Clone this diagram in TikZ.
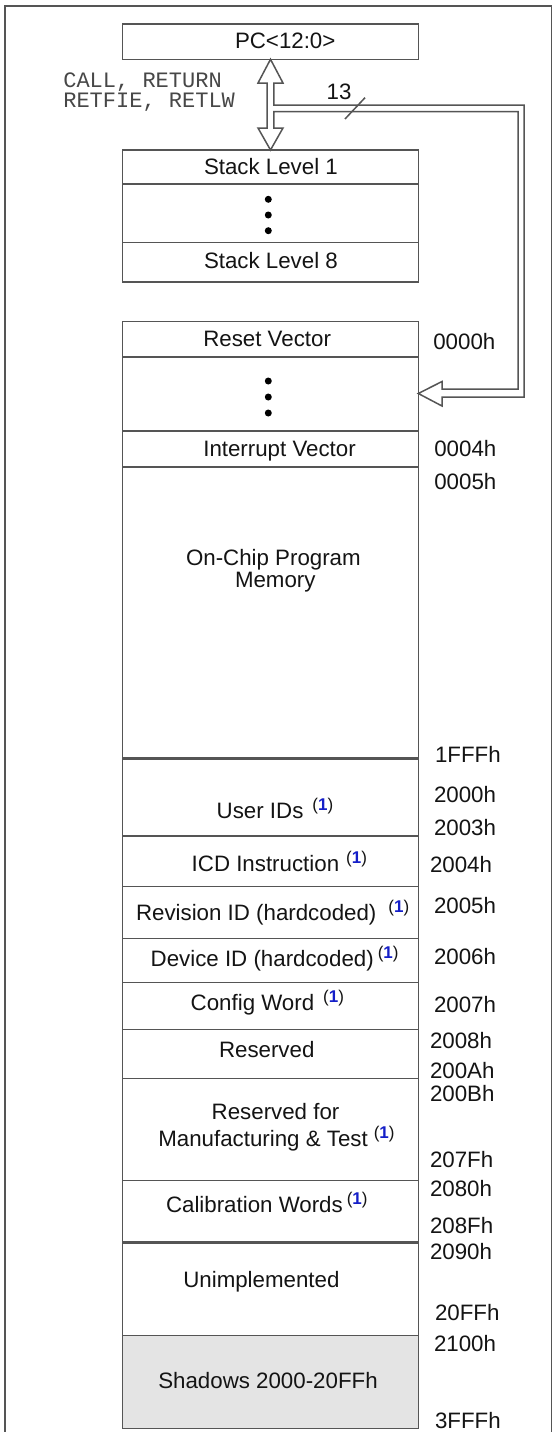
\documentclass[tikz,border=0pt]{standalone}
\usepackage{fontspec}
\setmainfont{Liberation Sans}
\newfontfamily\monofont{Liberation Mono}
\usetikzlibrary{calc}
\definecolor{linegray}{RGB}{85,85,85}
\definecolor{fnblue}{RGB}{20,30,200}
\definecolor{shadowfill}{RGB}{228,228,228}
\newcommand{\fnmark}{\raisebox{8pt}{\fontsize{17}{17}\selectfont(\textcolor{fnblue}{\bfseries 1})}}
\begin{document}
\begin{tikzpicture}[x=1pt,y=-1pt,
  cell/.style={draw=linegray, line width=1.5pt, fill=white, rectangle, inner sep=0pt, outer sep=0pt, minimum width=295.6pt, anchor=north west},
  lbl/.style={anchor=base west, inner sep=0pt, outer sep=0pt, font=\fontsize{22.3}{24}\selectfont, text=black!92},
  addr/.style={lbl},
  mono/.style={anchor=base west, inner sep=0pt, outer sep=0pt, font=\monofont\fontsize{22}{24}\selectfont, text=black!72},
  dotmark/.style={circle, fill=black, inner sep=0pt, minimum size=7pt},
  bus/.style={draw=linegray, line width=1.5pt, fill=white, line join=miter},
  thin/.style={draw=linegray, line width=1.5pt},
  thickline/.style={draw=linegray, line width=3pt}
]
\useasboundingbox (0,0) rectangle (554,1432);
\fill[white] (0,0) rectangle (554,1432);
% outer frame
\draw[thin] (5,1445) -- (5,6) -- (551.5,6) -- (551.5,1445);

% PC and stack
\node[cell, minimum height=35.3pt] (pc) at (122.7,24) {};
\node[cell, minimum height=34pt] (s1) at (122.7,150) {};
\node[cell, minimum height=58.3pt] (sdots) at (122.7,184) {};
\node[cell, minimum height=39.7pt] (s8) at (122.7,242.3) {};

% memory map
\node[cell, minimum height=35.3pt] (reset) at (122.7,321.7) {};
\node[cell, minimum height=74pt] (vdots) at (122.7,357) {};
\node[cell, minimum height=36pt] (intv) at (122.7,431) {};
\node[cell, minimum height=291.3pt] (onchip) at (122.7,467) {};
\node[cell, minimum height=77.7pt] (uid) at (122.7,758.3) {};
\node[cell, minimum height=50.7pt] (icd) at (122.7,836) {};
\node[cell, minimum height=51.6pt] (rev) at (122.7,886.7) {};
\node[cell, minimum height=44pt] (dev) at (122.7,938.3) {};
\node[cell, minimum height=47pt] (cfg) at (122.7,982.3) {};
\node[cell, minimum height=49pt] (rsv) at (122.7,1029.3) {};
\node[cell, minimum height=102.4pt] (mfg) at (122.7,1078.3) {};
\node[cell, minimum height=62pt] (cal) at (122.7,1180.7) {};
\node[cell, minimum height=93pt] (unimp) at (122.7,1242.7) {};
\node[cell, minimum height=92.6pt, fill=shadowfill] (shadow) at (122.7,1335.7) {};
\draw[thickline] (onchip.south west) -- (onchip.south east);
\draw[thickline] (cal.south west) -- (cal.south east);

% dots
\node[dotmark] (d1) at (268.3,199.3) {};
\node[dotmark] (d2) at (268.3,215) {};
\node[dotmark] (d3) at (268.3,230.7) {};
\node[dotmark] (d4) at (268.3,381) {};
\node[dotmark] (d5) at (268.3,397) {};
\node[dotmark] (d6) at (268.3,413) {};

% hollow bus arrows
\coordinate (tipA) at (270.5,59.3);
\coordinate (tipB) at (270.5,150);
\coordinate (tipC) at (vdots.east |- 0,393.5);
\path[bus] (tipA) -- (283,83) -- (273.8,83) -- (273.8,105) -- (524,105) -- (524,397)
  -- (442,397) -- (442,406) -- (tipC) -- (442,381.5) -- (442,389) -- (518,389)
  -- (518,111.7) -- (273.8,111.7) -- (273.8,128) -- (283,128) -- (tipB)
  -- (258,128) -- (267.2,128) -- (267.2,83) -- (258,83) -- cycle;
\coordinate (slashA) at (345,119);
\coordinate (slashB) at (365,97.7);
\draw[thin] (slashA) -- (slashB);
\node[lbl] (t13) at (326.7,99.3) {13};

% left labels
\node[mono] (tcall) at (63.3,87.5) {CALL, RETURN};
\node[mono] (tret) at (63.3,107) {RETFIE, RETLW};

% box labels
\node[lbl] (tpc) at (235,48) {PC<12:0>};
\node[lbl] (ts1) at (204,174.5) {Stack Level 1};
\node[lbl] (ts8) at (204,268) {Stack Level 8};
\node[lbl] (treset) at (203.3,346.5) {Reset Vector};
\node[lbl] (tint) at (203.3,456) {Interrupt Vector};
\node[lbl] (toc1) at (186,565.7) {On-Chip Program};
\node[lbl] (toc2) at (235,587.7) {Memory};
\node[lbl] (tuid) at (216.7,818.5) {User IDs\hspace{9pt}\fnmark};
\node[lbl] (ticd) at (191.7,871.7) {ICD Instruction\hspace{7pt}\fnmark};
\node[lbl] (trev) at (136,920) {Revision ID (hardcoded)\hspace{12pt}\fnmark};
\node[lbl] (tdev) at (150.7,966) {Device ID (hardcoded)\hspace{4pt}\fnmark};
\node[lbl] (tcfg) at (190.7,1010) {Config Word\hspace{9pt}\fnmark};
\node[lbl] (trsv) at (219,1057.3) {Reserved};
\node[lbl] (tmf1) at (211.7,1119.3) {Reserved for};
\node[lbl] (tmf2) at (158.3,1146.7) {Manufacturing \& Test\hspace{6pt}\fnmark};
\node[lbl] (tcal) at (166,1212.5) {Calibration Words\hspace{4pt}\fnmark};
\node[lbl] (tun) at (183.3,1287) {Unimplemented};
\node[lbl] (tsh) at (158.3,1388) {Shadows 2000-20FFh};

% addresses
\node[addr] (a0000) at (433.3,349.3) {0000h};
\node[addr] (a0004) at (434.3,456.7) {0004h};
\node[addr] (a0005) at (434.3,489.3) {0005h};
\node[addr] (a1fff) at (435,762.7) {1FFFh};
\node[addr] (a2000) at (434,802.3) {2000h};
\node[addr] (a2003) at (434,835) {2003h};
\node[addr] (a2004) at (430,872.7) {2004h};
\node[addr] (a2005) at (434,913.3) {2005h};
\node[addr] (a2006) at (434,964) {2006h};
\node[addr] (a2007) at (434,1012.3) {2007h};
\node[addr] (a2008) at (430,1048.3) {2008h};
\node[addr] (a200a) at (430,1078.3) {200Ah};
\node[addr] (a200b) at (430,1101) {200Bh};
\node[addr] (a207f) at (430,1167.3) {207Fh};
\node[addr] (a2080) at (430,1196) {2080h};
\node[addr] (a208f) at (430,1233.3) {208Fh};
\node[addr] (a2090) at (430,1259.3) {2090h};
\node[addr] (a20ff) at (435,1320) {20FFh};
\node[addr] (a2100) at (434,1351) {2100h};
\node[addr] (a3fff) at (435,1428.3) {3FFFh};
\end{tikzpicture}
\end{document}
